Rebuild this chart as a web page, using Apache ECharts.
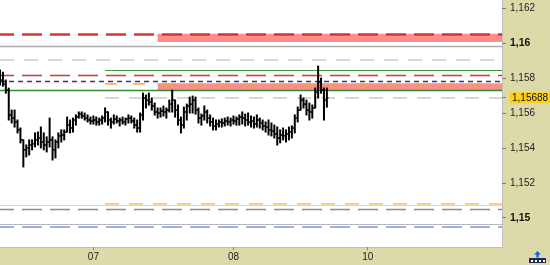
<!DOCTYPE html>
<html><head><meta charset="utf-8">
<script src="https://cdn.jsdelivr.net/npm/echarts@6/dist/echarts.min.js"></script>
<style>html,body{margin:0;padding:0;background:#fff}#c{width:550px;height:265px}</style>
</head><body><div id="c"></div><script>
// ---- time axis (30-minute bars) ----
const sessionDays = ['06', '07', '08', '10'];
const sessionFirstHour = [8, 0, 0, 0];
const sessionBarCount = [32, 48, 46, 47];

// ---- price bars (OHLC) ----
const openP = [1.15817,1.15789,1.15766,1.15731,1.15589,1.15571,1.15549,1.15503,1.15446,1.15389,
1.15400,1.15417,1.15423,1.15446,1.15457,1.15434,1.15417,1.15434,1.15446,1.15389,
1.15434,1.15469,1.15474,1.15491,1.15531,1.15514,1.15560,1.15577,1.15594,1.15583,
1.15571,1.15560,1.15554,1.15560,1.15549,1.15560,1.15571,1.15606,1.15560,1.15549,
1.15566,1.15554,1.15560,1.15549,1.15566,1.15571,1.15554,1.15531,1.15514,1.15589,
1.15686,1.15674,1.15663,1.15640,1.15606,1.15600,1.15611,1.15606,1.15617,1.15651,
1.15674,1.15617,1.15560,1.15531,1.15606,1.15640,1.15651,1.15674,1.15617,1.15571,
1.15583,1.15606,1.15571,1.15549,1.15526,1.15537,1.15549,1.15543,1.15554,1.15549,
1.15560,1.15554,1.15566,1.15577,1.15571,1.15560,1.15549,1.15554,1.15537,1.15560,
1.15543,1.15526,1.15520,1.15503,1.15497,1.15480,1.15457,1.15474,1.15469,1.15480,
1.15491,1.15514,1.15571,1.15617,1.15674,1.15651,1.15617,1.15606,1.15629,1.15720,
1.15777,1.15731,1.15674];
const highP = [1.15846,1.15834,1.15789,1.15743,1.15617,1.15617,1.15560,1.15514,1.15446,1.15417,
1.15446,1.15446,1.15486,1.15491,1.15520,1.15486,1.15463,1.15571,1.15463,1.15446,
1.15486,1.15503,1.15503,1.15577,1.15560,1.15571,1.15589,1.15606,1.15606,1.15600,
1.15589,1.15577,1.15583,1.15577,1.15571,1.15583,1.15629,1.15606,1.15571,1.15589,
1.15583,1.15571,1.15577,1.15571,1.15589,1.15583,1.15571,1.15560,1.15600,1.15714,
1.15703,1.15714,1.15686,1.15657,1.15629,1.15629,1.15640,1.15629,1.15674,1.15731,
1.15674,1.15646,1.15577,1.15634,1.15651,1.15691,1.15697,1.15691,1.15629,1.15594,
1.15640,1.15617,1.15589,1.15571,1.15560,1.15560,1.15566,1.15571,1.15577,1.15571,
1.15583,1.15577,1.15589,1.15606,1.15594,1.15600,1.15583,1.15577,1.15589,1.15571,
1.15560,1.15549,1.15560,1.15543,1.15531,1.15520,1.15503,1.15514,1.15503,1.15520,
1.15526,1.15589,1.15634,1.15703,1.15686,1.15674,1.15657,1.15646,1.15743,1.15869,
1.15800,1.15743,1.15743];
const lowP = [1.15760,1.15754,1.15714,1.15560,1.15543,1.15520,1.15486,1.15429,1.15291,1.15349,
1.15360,1.15389,1.15406,1.15417,1.15400,1.15389,1.15377,1.15406,1.15331,1.15343,
1.15400,1.15434,1.15446,1.15491,1.15486,1.15491,1.15531,1.15571,1.15571,1.15560,
1.15549,1.15537,1.15537,1.15531,1.15531,1.15537,1.15549,1.15531,1.15514,1.15537,
1.15543,1.15526,1.15537,1.15531,1.15543,1.15543,1.15514,1.15491,1.15491,1.15560,
1.15629,1.15646,1.15617,1.15589,1.15571,1.15577,1.15583,1.15571,1.15606,1.15606,
1.15577,1.15531,1.15486,1.15514,1.15560,1.15600,1.15600,1.15594,1.15543,1.15531,
1.15560,1.15543,1.15526,1.15503,1.15503,1.15520,1.15520,1.15526,1.15531,1.15526,
1.15537,1.15531,1.15531,1.15537,1.15526,1.15531,1.15520,1.15514,1.15520,1.15514,
1.15503,1.15491,1.15474,1.15469,1.15457,1.15417,1.15429,1.15446,1.15434,1.15446,
1.15457,1.15486,1.15549,1.15617,1.15629,1.15589,1.15560,1.15571,1.15629,1.15686,
1.15714,1.15560,1.15634];
const closeP = [1.15789,1.15766,1.15731,1.15589,1.15571,1.15549,1.15503,1.15446,1.15389,1.15400,
1.15417,1.15423,1.15446,1.15457,1.15434,1.15417,1.15434,1.15446,1.15389,1.15434,
1.15469,1.15474,1.15491,1.15531,1.15514,1.15560,1.15577,1.15594,1.15583,1.15571,
1.15560,1.15554,1.15560,1.15549,1.15560,1.15571,1.15606,1.15560,1.15549,1.15566,
1.15554,1.15560,1.15549,1.15566,1.15571,1.15554,1.15531,1.15514,1.15589,1.15686,
1.15674,1.15663,1.15640,1.15606,1.15600,1.15611,1.15606,1.15617,1.15651,1.15674,
1.15617,1.15560,1.15531,1.15606,1.15640,1.15651,1.15674,1.15617,1.15571,1.15583,
1.15606,1.15571,1.15549,1.15526,1.15537,1.15549,1.15543,1.15554,1.15549,1.15560,
1.15554,1.15566,1.15577,1.15571,1.15560,1.15549,1.15554,1.15537,1.15560,1.15543,
1.15526,1.15520,1.15503,1.15497,1.15480,1.15457,1.15474,1.15469,1.15480,1.15491,
1.15514,1.15571,1.15617,1.15674,1.15651,1.15617,1.15606,1.15629,1.15720,1.15777,
1.15731,1.15674,1.15688];

// ---- axis ticks / last price ----
const yTicks = [1.15, 1.152, 1.154, 1.156, 1.158, 1.16, 1.162];
const yRange = [1.14832, 1.16248];
const lastPrice = 1.15688;

// ---- horizontal levels ----
const fullLevels = [1.16054, 1.15981, 1.15907, 1.15815, 1.15783, 1.15731, 1.15070, 1.15050, 1.14960, 1.14949];
const partialLevels = [1.15844, 1.15770, 1.15688, 1.15078];
const partialStart = '07 02:00';
const zones = [[1.16055, 1.16007], [1.15771, 1.15731]];
const zoneStart = '07 11:00';

// styles (kept separate from values)
const fullStyles = [
  {color:'#d93535', width:2.6, type:[20,8], dashOffset:6},
  {color:'#ababab', width:1.4, type:'solid'},
  {color:'#cdcdcd', width:1.5, type:[14,10]},
  {color:'#c83c3c', width:1.4, type:[20,8], dashOffset:6},
  {color:'#4b2a7a', width:1.3, type:[5,4]},
  {color:'#2f8f2f', width:1.3, type:'solid'},
  {color:'#d8d8d8', width:1, type:'solid'},
  {color:'#8c8c8c', width:1.3, type:[20,8], dashOffset:6},
  {color:'#b8b8b8', width:1, type:'solid'},
  {color:'#7f95d8', width:1.6, type:[20,8], dashOffset:6}
];
const partialStyles = [
  {color:'#3a9a3a', width:1.1, type:'solid'},
  {color:'#f0b040', width:1.5, type:[12,16]},
  {color:'#cccccc', width:1.5, type:[14,10]},
  {color:'#f5c860', width:1.6, type:[14,10]}
];
const zoneColor = '#ff8c8c';

// build categories
const categories = [];
sessionDays.forEach((d, k) => {
  for (let j = 0; j < sessionBarCount[k]; j++) {
    const m = sessionFirstHour[k] * 60 + j * 30;
    categories.push(d + ' ' + String(Math.floor(m / 60)).padStart(2, '0') + ':' + String(m % 60).padStart(2, '0'));
  }
});
const firstCat = categories[0];
const lastCat = categories[categories.length - 1];
const ohlc = openP.map((o, i) => [i, o, highP[i], lowP[i], closeP[i]]);
const isDayStart = (idx, val) => /00:00$/.test(val);

const chart = echarts.init(document.getElementById('c'), null, {renderer: 'canvas'});
const FONT = 'Liberation Sans';

chart.setOption({
  animation: false,
  backgroundColor: '#ffffff',
  grid: {left: 0, right: 48, top: 0, bottom: 18, containLabel: false, outerBoundsMode: 'none'},
  xAxis: {
    type: 'category', data: categories, boundaryGap: false,
    axisLine: {show: true, lineStyle: {color: '#bdbdbd', width: 1}},
    axisTick: {show: true, interval: isDayStart, length: 3, lineStyle: {color: '#8a8a8a'}},
    axisLabel: {interval: isDayStart, formatter: v => v.slice(0, 2), fontFamily: FONT, fontSize: 10, color: '#222', margin: 5},
    splitLine: {show: false}
  },
  yAxis: {
    type: 'value', position: 'right', min: yRange[0], max: yRange[1],
    splitLine: {show: false},
    axisLine: {show: true, lineStyle: {color: '#bdbdbd', width: 1}},
    axisTick: {show: true, customValues: yTicks.concat([lastPrice]), length: 4, lineStyle: {color: '#7a7a7a'}},
    axisLabel: {
      customValues: yTicks.concat([lastPrice]),
      margin: 8, fontFamily: FONT, fontSize: 10, color: '#222',
      formatter: v => {
        if (Math.abs(v - lastPrice) < 1e-7) return '{cur|' + String(lastPrice).replace('.', ',') + '}';
        const s = String(+v.toFixed(3)).replace('.', ',');
        return Math.abs(v * 100 - Math.round(v * 100)) < 1e-6 ? '{b|' + s + '}' : s;
      },
      rich: {
        b: {fontWeight: 'bold', fontFamily: FONT, fontSize: 10.5, color: '#111'},
        cur: {backgroundColor: '#fcd116', padding: [1, 6, 0, 2], fontFamily: FONT, fontSize: 10, color: '#111', lineHeight: 11}
      }
    }
  },
  series: [
    {
      type: 'line', data: [], silent: true, z: 2,
      markArea: {
        silent: true,
        itemStyle: {color: zoneColor},
        data: zones.map(z => [{coord: [zoneStart, z[0]]}, {coord: [lastCat, z[1]]}])
      },
      markLine: {
        silent: true, symbol: 'none', label: {show: false}, precision: 6,
        data: fullLevels.map((v, i) => [
            {coord: [firstCat, v], lineStyle: fullStyles[i]},
            {coord: [lastCat, v]}
          ])
          .concat(partialLevels.map((v, i) => [
            {coord: [partialStart, v], lineStyle: partialStyles[i]},
            {coord: [lastCat, v]}
          ]))
      }
    },
    {
      type: 'custom', z: 10, silent: true,
      data: ohlc,
      encode: {x: 0, y: [1, 2, 3, 4]},
      renderItem: (params, api) => {
        const i = api.value(0);
        const po = api.coord([i, api.value(1)]);
        const ph = api.coord([i, api.value(2)]);
        const pl = api.coord([i, api.value(3)]);
        const pc = api.coord([i, api.value(4)]);
        const x = po[0];
        const st = {stroke: '#000', lineWidth: 1.4};
        return {
          type: 'group',
          children: [
            {type: 'line', shape: {x1: x, y1: ph[1] - 0.5, x2: x, y2: pl[1] + 0.5}, style: {stroke: '#000', lineWidth: 2}},
            {type: 'line', shape: {x1: x - 1.6, y1: po[1], x2: x, y2: po[1]}, style: st},
            {type: 'line', shape: {x1: x, y1: pc[1], x2: x + 1.6, y2: pc[1]}, style: st}
          ]
        };
      }
    }
  ],
  graphic: [
    {type: 'rect', z: -5, silent: true, shape: {x: 502, y: 0, width: 48, height: 265}, style: {fill: '#dcdaa9'}},
    {type: 'rect', z: -5, silent: true, shape: {x: 0, y: 247, width: 550, height: 18}, style: {fill: '#dcdaa9'}},
    {type: 'polygon', z: 20, silent: true,
      shape: {points: [[537.5, 251], [534, 254.5], [536.3, 254.5], [536.3, 257.5], [538.7, 257.5], [538.7, 254.5], [541, 254.5]]},
      style: {fill: '#1f5fd6'}},
    {type: 'rect', z: 20, silent: true, shape: {x: 529, y: 258, width: 17, height: 5}, style: {fill: '#1d2b58'}},
    {type: 'rect', z: 21, silent: true, shape: {x: 531, y: 260, width: 2, height: 2}, style: {fill: '#ffffff'}},
    {type: 'rect', z: 21, silent: true, shape: {x: 535, y: 260, width: 2, height: 2}, style: {fill: '#ffffff'}},
    {type: 'rect', z: 21, silent: true, shape: {x: 539, y: 260, width: 2, height: 2}, style: {fill: '#ffffff'}},
    {type: 'rect', z: 21, silent: true, shape: {x: 543, y: 260, width: 2, height: 2}, style: {fill: '#ffffff'}}
  ]
});
</script></body></html>
